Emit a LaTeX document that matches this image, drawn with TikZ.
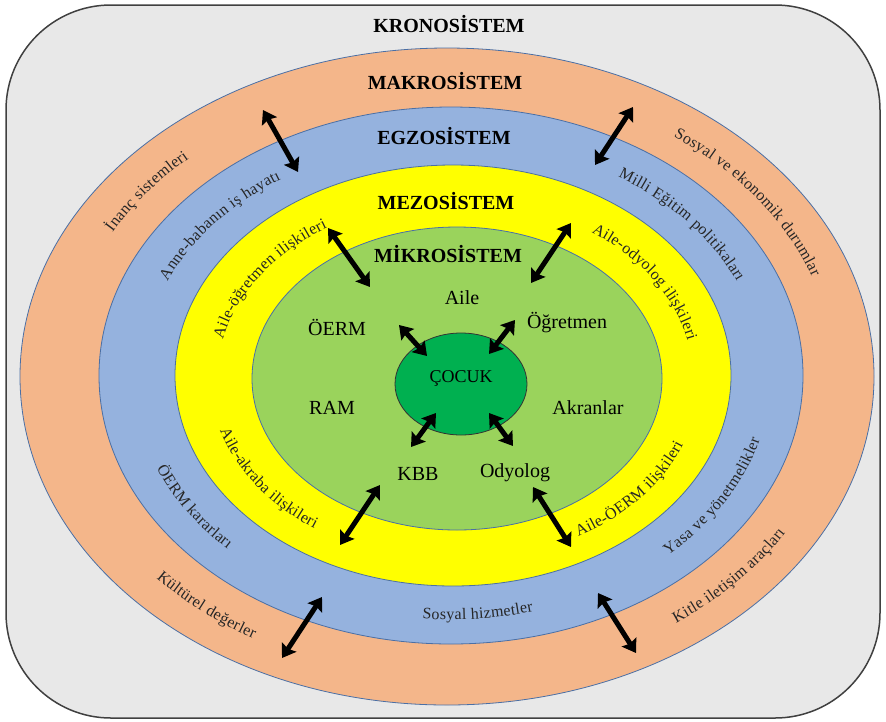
\documentclass[tikz,border=0pt]{standalone}
\usepackage{fontspec}
\setmainfont{Liberation Serif}
\usetikzlibrary{arrows.meta,decorations.text}
\definecolor{kronobg}{HTML}{E8E8E8}
\definecolor{makro}{HTML}{F4B68A}
\definecolor{egzo}{HTML}{95B2DE}
\definecolor{mezo}{HTML}{FFFF00}
\definecolor{mikro}{HTML}{9AD35C}
\definecolor{cocuk}{HTML}{00B050}
\definecolor{rim}{HTML}{4A6FA5}
\newcommand{\bandfont}{\fontsize{16}{16}\selectfont\kern0.3pt}
\tikzset{
	sys/.style={font=\fontsize{20}{20}\selectfont\bfseries},
	lbl/.style={font=\fontsize{20}{20}\selectfont},
	ring/.style={draw=rim, line width=0.8pt},
	dbl/.style={line width=5pt, {Stealth[length=13pt,width=17pt,inset=2pt]}-{Stealth[length=13pt,width=17pt,inset=2pt]}},
	curved/.style={decorate, decoration={text along path, text color=black!85}}
}
\begin{document}
\begin{tikzpicture}[x=1pt,y=1pt]
		\useasboundingbox (0,0) rectangle (886,-721);
		\draw[black!75, line width=1.5pt, fill=kronobg, rounded corners=105pt] (6,-5) rectangle (880,-718);
		\draw[ring, fill=makro] (447,-376.5) ellipse [x radius=427, y radius=328.5];
		\draw[ring, fill=egzo] (451,-375.5) ellipse [x radius=352, y radius=268.5];
		\draw[ring, fill=mezo] (453,-375.5) ellipse [x radius=278, y radius=210.5];
		\draw[ring, fill=mikro] (457,-378.5) ellipse [x radius=205, y radius=151.5];
		\draw[black!80, line width=0.8pt, fill=cocuk] (461,-384) ellipse [x radius=66, y radius=51];
		\node[sys] (kron) at (449,-24) {KRONOSİSTEM};
		\node[sys] (makro) at (445,-81) {MAKROSİSTEM};
		\node[sys] (egzo) at (444,-136) {EGZOSİSTEM};
		\node[sys] (mezo) at (446,-201) {MEZOSİSTEM};
		\node[sys] (mikro) at (448,-254) {MİKROSİSTEM};
		\node[lbl] (aile) at (462,-298) {Aile};
		\node[lbl] (oerm) at (337,-327) {ÖERM};
		\node[lbl] (ogretmen) at (567,-323) {Öğretmen};
		\node[font=\fontsize{18}{18}\selectfont] (cocukt) at (461,-378) {ÇOCUK};
		\node[lbl] (ram) at (332,-408) {RAM};
		\node[lbl] (akran) at (588,-408) {Akranlar};
		\node[lbl] (kbb) at (418,-474) {KBB};
		\node[lbl] (odyo) at (515,-473) {Odyolog};
		\path[curved, decoration={text={|\bandfont|İnanç sistemleri}}] (449,-376) ++(150.8:385.5 and 294.5) arc[start angle=150.8, end angle=65.8, x radius=385.5, y radius=294.5];
		\path[curved, decoration={text={|\bandfont|Anne-babanın iş hayatı}}] (452,-376) ++(156.3:311 and 235.5) arc[start angle=156.3, end angle=71.3, x radius=311, y radius=235.5];
		\path[curved, decoration={text={|\bandfont|Aile-öğretmen ilişkileri}}] (455,-377) ++(167.9:237.5 and 177) arc[start angle=167.9, end angle=82.9, x radius=237.5, y radius=177];
		\path[curved, decoration={text={|\bandfont|Aile-odyolog ilişkileri}}] (455,-377) ++(55:237.5 and 177) arc[start angle=55, end angle=-30, x radius=237.5, y radius=177];
		\path[curved, decoration={text={|\bandfont|Milli Eğitim politikaları}}] (452,-376) ++(57.8:311 and 235.5) arc[start angle=57.8, end angle=-27.2, x radius=311, y radius=235.5];
		\path[curved, decoration={text={|\bandfont|Sosyal ve ekonomik durumlar}}] (449,-376) ++(54.4:385.5 and 294.5) arc[start angle=54.4, end angle=-30.6, x radius=385.5, y radius=294.5];
		\path[curved, decoration={text={|\bandfont|Aile-akraba ilişkileri}}] (455,-377) ++(196.7:245.5 and 185) arc[start angle=196.7, end angle=281.7, x radius=245.5, y radius=185];
		\path[curved, decoration={text={|\bandfont|ÖERM kararları}}] (452,-376) ++(202.2:319 and 243.5) arc[start angle=202.2, end angle=287.2, x radius=319, y radius=243.5];
		\path[curved, decoration={text={|\bandfont|Kültürel değerler}}] (449,-376) ++(221.9:393.5 and 302.5) arc[start angle=221.9, end angle=306.9, x radius=393.5, y radius=302.5];
		\path[curved, decoration={text={|\bandfont|Sosyal hizmetler}}] (452,-376) ++(264.6:319 and 243.5) arc[start angle=264.6, end angle=349.6, x radius=319, y radius=243.5];
		\path[curved, decoration={text={|\bandfont|Aile-ÖERM ilişkileri}}] (455,-377) ++(300.1:245.5 and 185) arc[start angle=300.1, end angle=385.1, x radius=245.5, y radius=185];
		\path[curved, decoration={text={|\bandfont|Yasa ve yönetmelikler}}] (452,-376) ++(312.6:319 and 243.5) arc[start angle=312.6, end angle=397.6, x radius=319, y radius=243.5];
		\path[curved, decoration={text={|\bandfont|Kitle iletişim araçları}}] (449,-376) ++(305.2:393.5 and 302.5) arc[start angle=305.2, end angle=390.2, x radius=393.5, y radius=302.5];
		\coordinate (a1) at (263,-110); \coordinate (b1) at (298,-172);
		\coordinate (a2) at (633,-107); \coordinate (b2) at (595,-165);
		\coordinate (a3) at (328,-228); \coordinate (b3) at (370,-287);
		\coordinate (a4) at (571,-223); \coordinate (b4) at (531,-283);
		\coordinate (a5) at (399,-325); \coordinate (b5) at (427,-356);
		\coordinate (a6) at (515,-320); \coordinate (b6) at (489,-354);
		\coordinate (a7) at (436,-413); \coordinate (b7) at (411,-447);
		\coordinate (a8) at (489,-413); \coordinate (b8) at (513,-446);
		\coordinate (a9) at (380,-485); \coordinate (b9) at (340,-545);
		\coordinate (a10) at (533,-487); \coordinate (b10) at (571,-547);
		\coordinate (a11) at (322,-597); \coordinate (b11) at (282,-658);
		\coordinate (a12) at (598,-593); \coordinate (b12) at (636,-653);
		\foreach \i in {1,...,12} \draw[dbl] (a\i) -- (b\i);
	\end{tikzpicture}
\end{document}
